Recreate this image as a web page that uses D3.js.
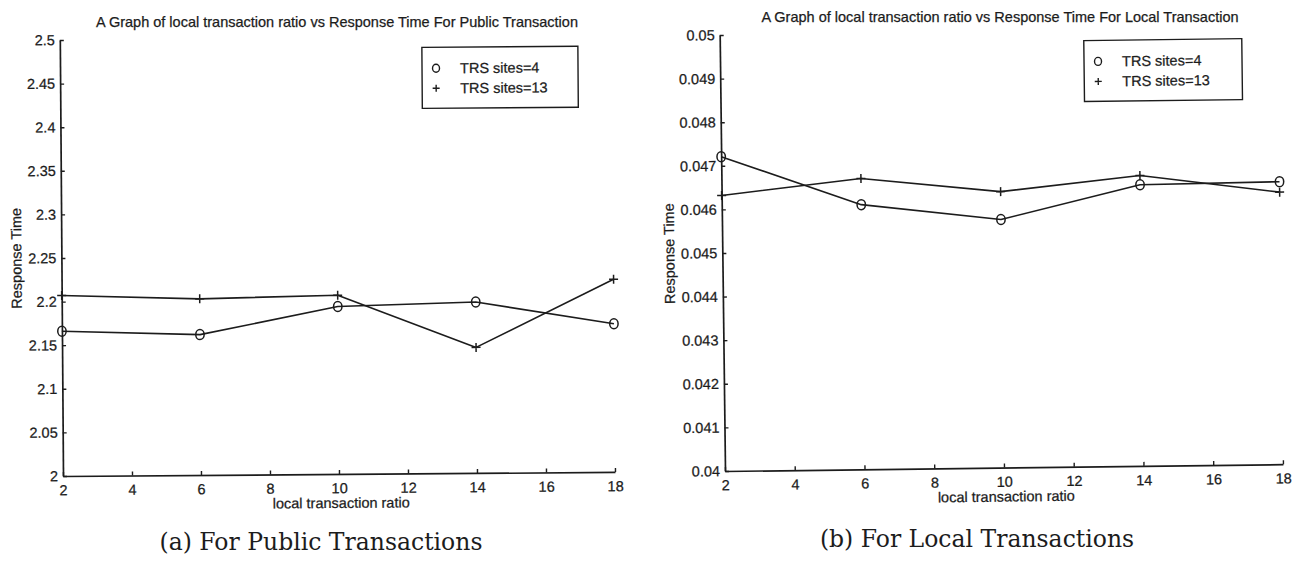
<!DOCTYPE html>
<html>
<head>
<meta charset="utf-8">
<script src="https://cdn.jsdelivr.net/npm/d3@7"></script>
<style>
  html, body { margin: 0; padding: 0; background: #fff; }
  svg { display: block; }
  .sans { font-family: "Liberation Sans", Arial, Helvetica, sans-serif; fill: #1c1c1c; stroke: #1c1c1c; stroke-width: 0.25px; }
  .caption { font-family: "DejaVu Serif", "Liberation Serif", serif; fill: #1c1c1c; }
</style>
</head>
<body>
<svg id="fig" width="1297" height="570"></svg>
<script>
// Local transaction ratio (x values shared by both panels)
const localRatio = [2, 6, 10, 14, 18];
const xTickValues = [2, 4, 6, 8, 10, 12, 14, 16, 18];

// Response time for public transactions
const publicSites4 = [2.166, 2.161, 2.192, 2.196, 2.170];
const publicSites13 = [2.207, 2.202, 2.205, 2.144, 2.221];
const publicYTicks = [2, 2.05, 2.1, 2.15, 2.2, 2.25, 2.3, 2.35, 2.4, 2.45, 2.5];
const publicYLabels = ["2", "2.05", "2.1", "2.15", "2.2", "2.25", "2.3", "2.35", "2.4", "2.45", "2.5"];

// Response time for local transactions
const localSites4 = [0.04721, 0.04607, 0.04569, 0.04645, 0.04648];
const localSites13 = [0.04632, 0.04667, 0.04633, 0.04666, 0.04624];
const localYTicks = [0.04, 0.041, 0.042, 0.043, 0.044, 0.045, 0.046, 0.047, 0.048, 0.049, 0.05];
const localYLabels = ["0.04", "0.041", "0.042", "0.043", "0.044", "0.045", "0.046", "0.047", "0.048", "0.049", "0.05"];

const seriesNames = ["TRS sites=4", "TRS sites=13"];
const titles = [
  "A Graph of local transaction ratio vs Response Time For Public Transaction",
  "A Graph of local transaction ratio vs Response Time For Local Transaction"
];
const captions = ["(a) For Public Transactions", "(b) For Local Transactions"];
const xAxisTitle = "local transaction ratio";
const yAxisTitle = "Response Time";

const ink = "#1c1c1c";
const fs = 14.5;
const svg = d3.select("#fig");

const panels = [
  {
    origin: [63, 476], width: 552, height: 436, tilt: -0.42,
    yDomain: [2, 2.5], yTicks: publicYTicks, yLabels: publicYLabels,
    s4: publicSites4, s13: publicSites13, title: titles[0],
    titlePos: [337, 27], legend: [362, -426, 156, 61], yTitleX: -40,
    caption: captions[0], captionPos: [321, 550]
  },
  {
    origin: [725, 471], width: 558, height: 436, tilt: -0.7,
    yDomain: [0.04, 0.05], yTicks: localYTicks, yLabels: localYLabels,
    s4: localSites4, s13: localSites13, title: titles[1],
    titlePos: [1000, 22], legend: [364, -426, 158, 61], yTitleX: -48,
    caption: captions[1], captionPos: [977, 547]
  }
];

function plusPath(cx, cy, r) {
  return `M${cx - r},${cy}H${cx + r}M${cx},${cy - r}V${cy + r}`;
}

panels.forEach(p => {
  const x = d3.scaleLinear().domain([2, 18]).range([0, p.width]);
  const y = d3.scaleLinear().domain(p.yDomain).range([0, -p.height]);

  const g = svg.append("g")
    .attr("transform", `translate(${p.origin[0]},${p.origin[1]}) rotate(${p.tilt})`);

  // y axis, ticks pointing inward
  const yAxis = d3.axisLeft(y)
    .tickValues(p.yTicks)
    .tickFormat((d, i) => p.yLabels[i])
    .tickSizeInner(-4).tickSizeOuter(0).tickPadding(5);
  const ya = g.append("g").call(yAxis);
  ya.select(".domain").attr("stroke", ink).attr("stroke-width", 1.7);
  ya.selectAll(".tick line").attr("stroke", ink).attr("stroke-width", 1.4);
  ya.selectAll(".tick text").attr("class", "sans").attr("font-size", fs);

  // x axis, ticks pointing inward
  const xAxis = d3.axisBottom(x)
    .tickValues(xTickValues)
    .tickSizeInner(-4).tickSizeOuter(0).tickPadding(9);
  const xa = g.append("g").call(xAxis);
  xa.select(".domain").attr("stroke", ink).attr("stroke-width", 1.7);
  xa.selectAll(".tick line").attr("stroke", ink).attr("stroke-width", 1.4);
  xa.selectAll(".tick text").attr("class", "sans").attr("font-size", fs);

  // lines
  const line = d3.line().x((d, i) => x(localRatio[i])).y(d => y(d));
  [p.s4, p.s13].forEach(vals => {
    g.append("path").datum(vals)
      .attr("d", line).attr("fill", "none")
      .attr("stroke", ink).attr("stroke-width", 1.6)
      .attr("stroke-linejoin", "round");
  });

  // markers: open circles for 4 sites, plus signs for 13 sites
  g.selectAll(".m4").data(p.s4).join("ellipse")
    .attr("cx", (d, i) => x(localRatio[i])).attr("cy", d => y(d))
    .attr("rx", 4.2).attr("ry", 5)
    .attr("fill", "none").attr("stroke", ink).attr("stroke-width", 1.5);
  g.selectAll(".m13").data(p.s13).join("path")
    .attr("d", (d, i) => plusPath(x(localRatio[i]), y(d), 4.5))
    .attr("fill", "none").attr("stroke", ink).attr("stroke-width", 1.5);

  // legend
  const [lx, ly, lw, lh] = p.legend;
  const lg = g.append("g").attr("transform", `translate(${lx},${ly})`);
  lg.append("rect").attr("width", lw).attr("height", lh)
    .attr("fill", "#fff").attr("stroke", ink).attr("stroke-width", 1.4);
  lg.append("ellipse").attr("cx", 14).attr("cy", 21).attr("rx", 3.5).attr("ry", 4)
    .attr("fill", "none").attr("stroke", ink).attr("stroke-width", 1.4);
  lg.append("path").attr("d", plusPath(14, 41, 3.5))
    .attr("fill", "none").attr("stroke", ink).attr("stroke-width", 1.4);
  seriesNames.forEach((name, i) => {
    lg.append("text").attr("class", "sans").attr("font-size", fs)
      .attr("x", 38).attr("y", 21 + i * 20).attr("dy", "0.35em").text(name);
  });

  // axis titles
  g.append("text").attr("class", "sans").attr("font-size", fs)
    .attr("text-anchor", "middle")
    .attr("x", p.width / 2 + 2).attr("y", 34)
    .text(xAxisTitle);
  g.append("text").attr("class", "sans").attr("font-size", fs)
    .attr("text-anchor", "middle")
    .attr("transform", `translate(${p.yTitleX},${-p.height / 2}) rotate(-90)`)
    .text(yAxisTitle);

  // chart title
  svg.append("text").attr("class", "sans").attr("font-size", fs)
    .attr("text-anchor", "middle")
    .attr("x", p.titlePos[0]).attr("y", p.titlePos[1])
    .text(p.title);

  // sub-figure caption
  svg.append("text").attr("class", "caption").attr("font-size", 23.5)
    .attr("text-anchor", "middle")
    .attr("x", p.captionPos[0]).attr("y", p.captionPos[1])
    .text(p.caption);
});
</script>
</body>
</html>
